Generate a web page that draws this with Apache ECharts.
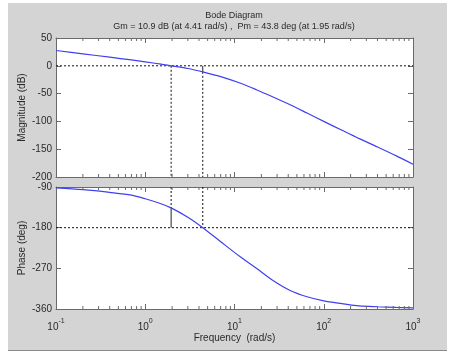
<!DOCTYPE html>
<html><head><meta charset="utf-8">
<script src="https://cdn.jsdelivr.net/npm/echarts@6/dist/echarts.min.js"></script>
<style>html,body{margin:0;padding:0;background:#fff}#c{width:449px;height:359px}</style>
</head><body><div id="c"></div>
<script>
// ---- data ----
var freq      = [0.1, 0.2, 0.4, 0.7, 1, 1.5, 1.95, 3, 4.41, 7, 11.5, 17.6, 27, 42, 65, 100, 160, 250, 400, 650, 1000];
var magnitude = [27.5, 21.5, 15.5, 10.5, 7, 3, 0, -4.8, -10.9, -19.5, -31, -43, -56, -70, -85, -100, -116, -131, -146, -162, -177];
var phase     = [-92, -96, -102, -108, -116, -127, -136.2, -157, -180, -211, -244, -270, -297, -319, -333, -342, -348, -353, -355, -356.5, -357.5];
var magTicks  = [50, 0, -50, -100, -150, -200];
var phaseTicks = [-90, -180, -270, -360];
var wcg = 4.41, gm = 10.9, wcp = 1.95, pmPhase = -136.2;
var titleLine1 = 'Bode Diagram';
var titleLine2 = 'Gm = 10.9 dB (at 4.41 rad/s) ,  Pm = 43.8 deg (at 1.95 rad/s)';

var minorTicks = [];
for (var d = -1; d < 3; d++) for (var k = 2; k <= 9; k++) minorTicks.push(k * Math.pow(10, d));

var chart = echarts.init(document.getElementById('c'));
var FONT = 'Liberation Sans, Arial, sans-serif';
var TXT = '#2a2a2a';
var AX = '#6a6a6a';

function pair(arrX, arrY) { return arrX.map(function (x, i) { return [x, arrY[i]]; }); }

function xAxisDef(gi, pos, showLabel, showName) {
  return {
    type: 'log', logBase: 10, gridIndex: gi, min: 0.1, max: 1000, position: pos,
    axisLine: { show: true, onZero: false, lineStyle: { color: AX, width: 1 } },
    axisTick: { show: true, inside: true, length: 5, lineStyle: { color: AX } },
    axisLabel: {
      show: showLabel, margin: 7, fontFamily: FONT, color: TXT,
      formatter: function (v) { var e = Math.round(Math.log10(v)); return '{b|10}{s|' + e + '}'; },
      rich: { b: { fontSize: 10, fontFamily: FONT, color: TXT, padding: [6, 0, 0, 0] }, s: { fontSize: 7, fontFamily: FONT, color: TXT, padding: [0, 0, 5, 0] } }
    },
    splitLine: { show: false },
    name: showName ? 'Frequency  (rad/s)' : '', nameLocation: 'middle', nameGap: 24, nameMoveOverlap: false,
    nameTextStyle: { fontSize: 10, fontFamily: FONT, color: TXT }
  };
}
function yAxisDef(gi, pos, min, max, interval, showLabel, name) {
  return {
    type: 'value', gridIndex: gi, min: min, max: max, interval: interval, position: pos,
    axisLine: { show: true, lineStyle: { color: AX, width: 1 } },
    axisTick: { show: true, inside: true, length: 5, lineStyle: { color: AX } },
    axisLabel: { show: showLabel, margin: 4, fontSize: 10, fontFamily: FONT, color: TXT },
    splitLine: { show: false },
    name: name, nameLocation: 'middle', nameGap: 29, nameMoveOverlap: false,
    nameTextStyle: { fontSize: 10, fontFamily: FONT, color: TXT }
  };
}
function minorTickSeries(xi, yi, ymin, ymax) {
  return {
    type: 'custom', xAxisIndex: xi, yAxisIndex: yi, silent: true, z: 5,
    data: minorTicks.map(function (f) { return [f]; }),
    renderItem: function (params, api) {
      var f = api.value(0);
      var top = api.coord([f, ymax]), bot = api.coord([f, ymin]);
      return { type: 'group', children: [
        { type: 'line', shape: { x1: top[0], y1: top[1], x2: top[0], y2: top[1] + 3 }, style: { stroke: AX, lineWidth: 1 } },
        { type: 'line', shape: { x1: bot[0], y1: bot[1], x2: bot[0], y2: bot[1] - 3 }, style: { stroke: AX, lineWidth: 1 } }
      ] };
    }
  };
}
function refLine(xi, yi, pts, type, color) {
  return { type: 'line', xAxisIndex: xi, yAxisIndex: yi, data: pts, symbol: 'none', silent: true, z: 3,
    lineStyle: { color: color || '#111', width: 1, type: type } };
}

var option = {
  backgroundColor: '#ffffff',
  animation: false,
  graphic: [
    { type: 'rect', shape: { x: 8, y: 3, width: 439, height: 347 }, style: { fill: '#d4d4d4' }, z: -10 },
    { type: 'line', shape: { x1: 8, y1: 350.5, x2: 447, y2: 350.5 }, style: { stroke: '#8a8a8a', lineWidth: 1 }, z: -10 },
    { type: 'text', style: { x: 234, y: 16, text: titleLine1, align: 'center', verticalAlign: 'middle', fontSize: 9, fontFamily: FONT, fill: TXT } },
    { type: 'text', style: { x: 234, y: 27, text: titleLine2, align: 'center', verticalAlign: 'middle', fontSize: 9, fontFamily: FONT, fill: TXT } }
  ],
  grid: [
    { left: 56, top: 38, width: 357, height: 139, show: true, backgroundColor: '#ffffff', borderWidth: 0 },
    { left: 56, top: 187, width: 357, height: 122, show: true, backgroundColor: '#ffffff', borderWidth: 0 }
  ],
  xAxis: [
    xAxisDef(0, 'bottom', false, false),
    xAxisDef(0, 'top', false, false),
    xAxisDef(1, 'bottom', true, true),
    xAxisDef(1, 'top', false, false)
  ],
  yAxis: [
    yAxisDef(0, 'left', magTicks[magTicks.length - 1], magTicks[0], 50, true, 'Magnitude (dB)'),
    yAxisDef(0, 'right', magTicks[magTicks.length - 1], magTicks[0], 50, false, ''),
    yAxisDef(1, 'left', phaseTicks[phaseTicks.length - 1], phaseTicks[0], 90, true, 'Phase (deg)'),
    yAxisDef(1, 'right', phaseTicks[phaseTicks.length - 1], phaseTicks[0], 90, false, '')
  ],
  series: [
    minorTickSeries(0, 0, -200, 50),
    minorTickSeries(2, 2, -360, -90),
    // reference lines (magnitude)
    refLine(0, 0, [[0.1, 0], [1000, 0]], [2, 2]),
    refLine(0, 0, [[wcp, 0], [wcp, -200]], [2, 2]),
    refLine(0, 0, [[wcg, -gm], [wcg, -200]], [2, 2]),
    refLine(0, 0, [[wcg, 0], [wcg, -gm]], 'solid', '#222'),
    // reference lines (phase)
    refLine(2, 2, [[0.1, -180], [1000, -180]], [2, 2]),
    refLine(2, 2, [[wcp, -90], [wcp, pmPhase]], [2, 2]),
    refLine(2, 2, [[wcg, -90], [wcg, -180]], [2, 2]),
    refLine(2, 2, [[wcp, pmPhase], [wcp, -180]], 'solid', '#222'),
    { type: 'line', xAxisIndex: 0, yAxisIndex: 0, data: pair(freq, magnitude), symbol: 'none', smooth: 0.3, z: 4,
      lineStyle: { color: '#4040f0', width: 1.2 } },
    { type: 'line', xAxisIndex: 2, yAxisIndex: 2, data: pair(freq, phase), symbol: 'none', smooth: 0.3, z: 4,
      lineStyle: { color: '#4040f0', width: 1.2 } }
  ]
};
chart.setOption(option);
</script></body></html>
